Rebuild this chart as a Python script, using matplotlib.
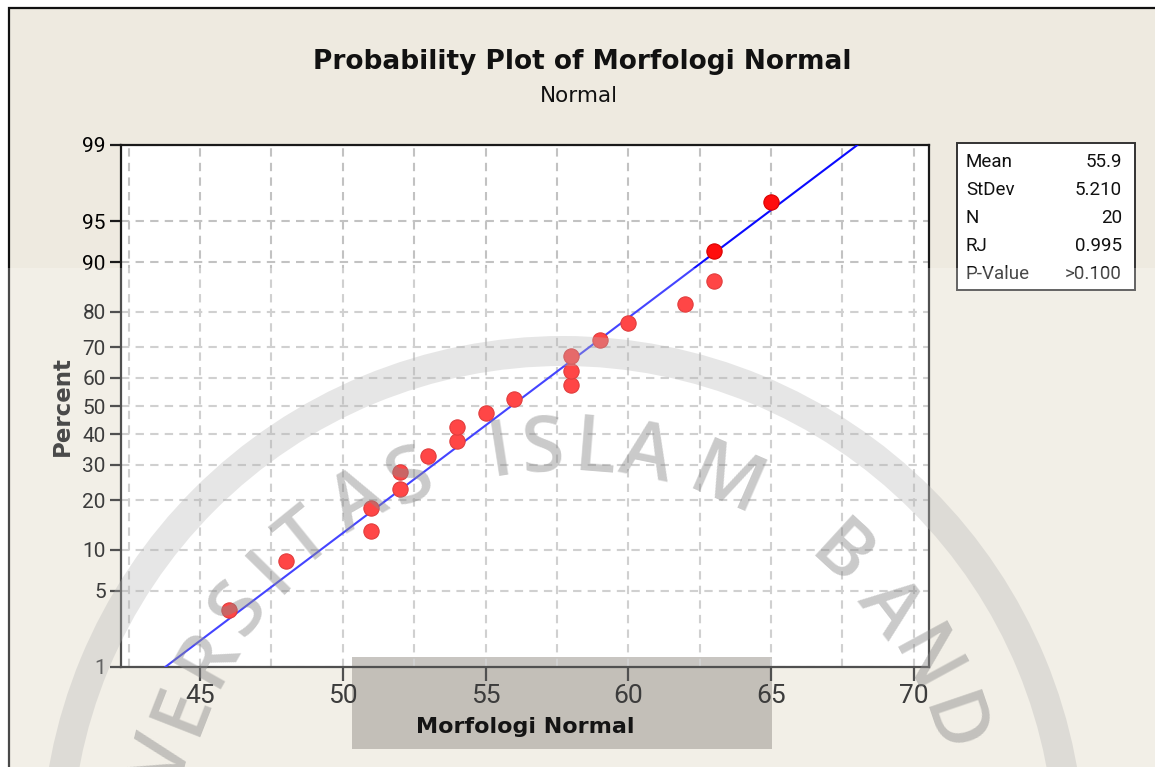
import numpy as np
import matplotlib
matplotlib.use('Agg')
import matplotlib.pyplot as plt
from matplotlib.patches import Rectangle, Wedge
from statistics import NormalDist

# data
morfologi = [46, 48, 51, 51, 52, 52, 53, 54, 54, 55,
             56, 58, 58, 58, 59, 60, 62, 63, 63, 65]
percent_ticks = [1, 5, 10, 20, 30, 40, 50, 60, 70, 80, 90, 95, 99]
x_ticks = [45, 50, 55, 60, 65, 70]
rj = 0.995
p_value = '>0.100'

# watermark letters (decoration) and their angle on the ring
wm_letters = list('VERSITAS ISLAM BAND')
wm_angles = [166.2, 158.6, 150.6, 142.4, 135.5, 129.0, 119.9, 112.0,
             105, 98.8, 92.9, 85.4, 78.3, 66.5,
             57, 47.5, 37.5, 28.5, 18.8]

plt.rcParams['font.family'] = ['Roboto', 'DejaVu Sans']
label_font = ['DejaVu Sans']

nd = NormalDist()


def fwd(p):
    p = np.clip(np.asarray(p, dtype=float), 1e-6, 100 - 1e-6)
    return np.vectorize(nd.inv_cdf, otypes=[float])(p / 100.0)


def inv(z):
    z = np.asarray(z, dtype=float)
    return np.vectorize(nd.cdf, otypes=[float])(z) * 100.0


x = np.sort(np.array(morfologi, dtype=float))
n = len(x)
pct = (np.arange(1, n + 1) - 0.3) / (n + 0.4) * 100
mean = x.mean()
sd = x.std(ddof=1)
zline = np.linspace(fwd(1)[()], fwd(99)[()], 60)

W, H = 1155, 767
fig = plt.figure(figsize=(W / 100, H / 100), dpi=100, facecolor='white')
T = fig.dpi_scale_trans


def P(xp, yp):
    # image pixel (y down) -> inches
    return xp / 100.0, (H - yp) / 100.0


# graph window background with border
fig.add_artist(Rectangle(P(9, H + 50), 13, (H + 50 - 8) / 100.0, transform=T,
                         facecolor='#eeeae0', edgecolor='#111111', lw=1.6, zorder=-10))

ax = fig.add_axes([121 / W, 1 - 667 / H, (929 - 121) / W, (667 - 145) / H])
ax.set_facecolor('white')
ax.set_yscale('function', functions=(fwd, inv))
ax.set_xlim(42.23, 70.53)
ax.set_ylim(1, 99)
ax.set_axisbelow(True)

ax.set_yticks(percent_ticks)
ax.set_yticklabels([str(t) for t in percent_ticks])
ax.yaxis.set_minor_locator(matplotlib.ticker.NullLocator())
ax.set_xticks(x_ticks)
ax.set_xticks(np.arange(42.5, 70.1, 2.5), minor=True)
ax.tick_params(axis='x', which='major', length=10, width=1.6, color='#1a1a1a',
               labelsize=19, pad=2, labelcolor='black')
ax.tick_params(axis='x', which='minor', length=0)
ax.tick_params(axis='y', which='major', length=8, width=1.6, color='#1a1a1a',
               labelsize=15, pad=3, labelcolor='black')
ax.grid(True, which='major', axis='y', color='#c2c2c2', lw=1.5, ls=(0, (4, 3)))
ax.grid(True, which='both', axis='x', color='#c2c2c2', lw=1.5, ls=(0, (4, 3)))
for s in ax.spines.values():
    s.set_color('#1a1a1a')
    s.set_linewidth(1.6)

# grey box behind the x label
ax.add_patch(Rectangle(P(352, 749), 4.2, 0.92, transform=T, clip_on=False,
                       facecolor=(140 / 255, 135 / 255, 125 / 255), alpha=0.62,
                       edgecolor='none', zorder=0.4))

ax.plot(mean + sd * zline, inv(zline), color='#0a0aff', lw=1.5, zorder=3)
ax.plot(x, pct, 'o', ms=11, mfc='#ff0d0d', mec='#d80000', mew=0.8, zorder=4)

ax.set_ylabel('Percent', fontsize=16.5, fontweight='bold', color='#111111',
              labelpad=6, family=label_font)

fig.text(582 / W, 1 - 62 / H, 'Probability Plot of Morfologi Normal', ha='center', va='center',
         fontsize=19, fontweight='bold', color='#111111', family=label_font)
fig.text(579 / W, 1 - 96 / H, 'Normal', ha='center', va='center', fontsize=15.5,
         color='#111111', family=label_font)

# statistics box
fig.add_artist(Rectangle(P(957, 290), 1.78, 1.47, transform=T, facecolor='white',
                         edgecolor='#333333', lw=1.4, zorder=5))
stats = [('Mean', '%.1f' % mean), ('StDev', '%.3f' % sd), ('N', str(n)),
         ('RJ', '%.3f' % rj), ('P-Value', p_value)]
for i, (k, v) in enumerate(stats):
    yy = 1 - (162 + 28 * i) / H
    fig.text(966 / W, yy, k, ha='left', va='center', fontsize=13.5, color='#111111', zorder=6)
    fig.text(1122 / W, yy, v, ha='right', va='center', fontsize=13.5, color='#111111', zorder=6)

# translucent watermark overlay on the lower part
fig.add_artist(Rectangle((0, 0), W / 100.0, (H - 268) / 100.0, transform=T,
                         facecolor='white', alpha=0.24, edgecolor='none', zorder=10))
cx, cy = P(563, 858)
fig.add_artist(Wedge((cx, cy), 5.22, 0, 360, width=0.30, transform=T,
                     facecolor='#b4b4b4', alpha=0.33, edgecolor='none', zorder=11))
for ch, a in zip(wm_letters, wm_angles):
    if ch == ' ':
        continue
    r = 4.08
    tx = cx + r * np.cos(np.radians(a))
    ty = cy + r * np.sin(np.radians(a))
    fig.text(tx, ty, ch, transform=T, ha='center', va='center', rotation=a - 90,
             rotation_mode='anchor', fontsize=56, fontweight='semibold',
             family=['Open Sans', 'DejaVu Sans'], color='#8a8a8a', alpha=0.45, zorder=12)

# x label sits on the highlight box, above the watermark layer
fig.text(525 / W, 1 - 727 / H, 'Morfologi Normal', ha='center', va='center', fontsize=16,
         fontweight='bold', color='#141414', family=label_font, zorder=13)

fig.savefig('out.png', dpi=100, facecolor=fig.get_facecolor())
